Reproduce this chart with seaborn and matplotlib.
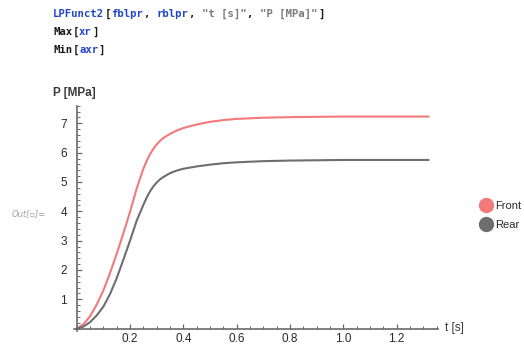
import matplotlib
matplotlib.use("Agg")
import matplotlib.pyplot as plt
import matplotlib.ticker as mticker
from matplotlib.lines import Line2D
import seaborn as sns
import pandas as pd

# ---- data ----
t_values = [0.0, 0.025, 0.05, 0.075, 0.1, 0.125, 0.15, 0.175, 0.2, 0.225, 0.25,
            0.2625, 0.275, 0.2875, 0.3, 0.3125, 0.325, 0.35, 0.375, 0.4, 0.45,
            0.5, 0.55, 0.6, 0.7, 0.8, 0.9, 1.0, 1.1, 1.2, 1.32]
front_values = [0.0, 0.15, 0.42, 0.82, 1.3, 1.9, 2.55, 3.25, 3.98, 4.78, 5.45,
                5.72, 5.95, 6.13, 6.28, 6.4, 6.5, 6.64, 6.75, 6.84, 6.96,
                7.05, 7.11, 7.15, 7.19, 7.21, 7.22, 7.23, 7.23, 7.23, 7.23]
rear_values = [0.0, 0.07, 0.22, 0.45, 0.75, 1.18, 1.72, 2.35, 3.0, 3.68, 4.22,
               4.47, 4.68, 4.85, 4.98, 5.09, 5.17, 5.3, 5.39, 5.45, 5.53,
               5.59, 5.64, 5.67, 5.71, 5.73, 5.74, 5.75, 5.75, 5.75, 5.75]
series_names = ["Front", "Rear"]
x_ticks = [0.2, 0.4, 0.6, 0.8, 1.0, 1.2]
x_tick_labels = ["0.2", "0.4", "0.6", "0.8", "1.0", "1.2"]
y_ticks = [1, 2, 3, 4, 5, 6, 7]
y_tick_labels = ["1", "2", "3", "4", "5", "6", "7"]

colors = {"Front": "#f27a7a", "Rear": "#6e6e6e"}

df = pd.DataFrame({
    "t": t_values * 2,
    "P": front_values + rear_values,
    "series": [series_names[0]] * len(t_values) + [series_names[1]] * len(t_values),
})

sns.set_theme(style="white")
plt.rcParams["font.family"] = ["Liberation Sans", "DejaVu Sans"]

W, H = 524, 345
fig = plt.figure(figsize=(W / 100, H / 100), dpi=100)
ax = fig.add_axes([73.5 / W, (H - 331) / H, (438 - 73.5) / W, (331 - 105.7) / H])

sns.lineplot(data=df, x="t", y="P", hue="series", palette=colors, ax=ax,
             linewidth=1.5, legend=False, sort=False)
for ln in ax.lines:
    ln.set_solid_capstyle("round")
    ln.set_solid_joinstyle("round")

ax.set_xlim(-0.012, 1.355)
ax.set_ylim(-0.08, 7.6)
ax.set_xlabel("")
ax.set_ylabel("")

axis_color = "#6a6a6a"
for side in ["top", "right"]:
    ax.spines[side].set_visible(False)
ax.spines["left"].set_position(("data", 0))
ax.spines["bottom"].set_position(("data", 0))
for side in ["left", "bottom"]:
    ax.spines[side].set_color(axis_color)
    ax.spines[side].set_linewidth(1.2)

ax.set_xticks(x_ticks)
ax.set_xticklabels(x_tick_labels)
ax.set_yticks(y_ticks)
ax.set_yticklabels(y_tick_labels)
ax.xaxis.set_minor_locator(mticker.MultipleLocator(0.05))
ax.yaxis.set_minor_locator(mticker.MultipleLocator(0.2))
ax.tick_params(axis="both", which="both", bottom=True, left=True, top=False, right=False)
ax.tick_params(axis="both", which="major", direction="in", length=3.5, width=0.9,
               color=axis_color, labelsize=8.5, labelcolor="#2a2a2a")
ax.tick_params(axis="both", which="minor", direction="in", length=2, width=0.7,
               color=axis_color)
ax.tick_params(axis="x", which="major", pad=3)
ax.tick_params(axis="y", which="major", pad=7)
ax.set_facecolor("white")

# axis labels (Mathematica style at axis ends)
fig.text(53 / W, 1 - 93 / H, "P [MPa]", fontsize=8.5, color="#3a3a3a",
         fontweight="bold", ha="left", va="center")
fig.text(445 / W, 1 - 328 / H, "t [s]", fontsize=8.5, color="#3a3a3a",
         ha="left", va="center")

# legend
handles = [Line2D([], [], marker="o", linestyle="", markersize=10,
                  markerfacecolor=colors[n], markeredgecolor=colors[n]) for n in series_names]
fig.legend(handles, series_names, loc="center left",
           bbox_to_anchor=(474 / W, 1 - 215.5 / H), frameon=False,
           fontsize=8, handletextpad=0.2, labelspacing=0.85, borderpad=0,
           handlelength=1.2, labelcolor="#2a2a2a")

# input code cell text
mono = "DejaVu Sans Mono"
fs_code = 7.7
char_w = 6.47 / W
blue = "#2346c8"
black = "#1a1a1a"
grey = "#7a7a7a"
code_lines = [
    (14, [("LPFunct2", blue), ("[", black), ("fblpr", blue), (", ", black),
          ("rblpr", blue), (", ", black), ('"t [s]"', grey), (", ", black),
          ('"P [MPa]"', grey), ("]", black)]),
    (32, [("Max", black), ("[", black), ("xr", blue), ("]", black)]),
    (50, [("Min", black), ("[", black), ("axr", blue), ("]", black)]),
]
for ypx, segs in code_lines:
    n = 0
    for txt, col in segs:
        fig.text(53.3 / W + n * char_w, 1 - ypx / H, txt, fontsize=fs_code,
                 family=mono, fontweight="bold", color=col, ha="left", va="center")
        n += len(txt)

fig.text(12 / W, 1 - 214 / H, "Out[\u25ab]=", fontsize=6, color="#a0a0a0",
         style="italic", ha="left", va="center", family=["DejaVu Sans"])

fig.savefig("out.png", dpi=100, facecolor="white")
